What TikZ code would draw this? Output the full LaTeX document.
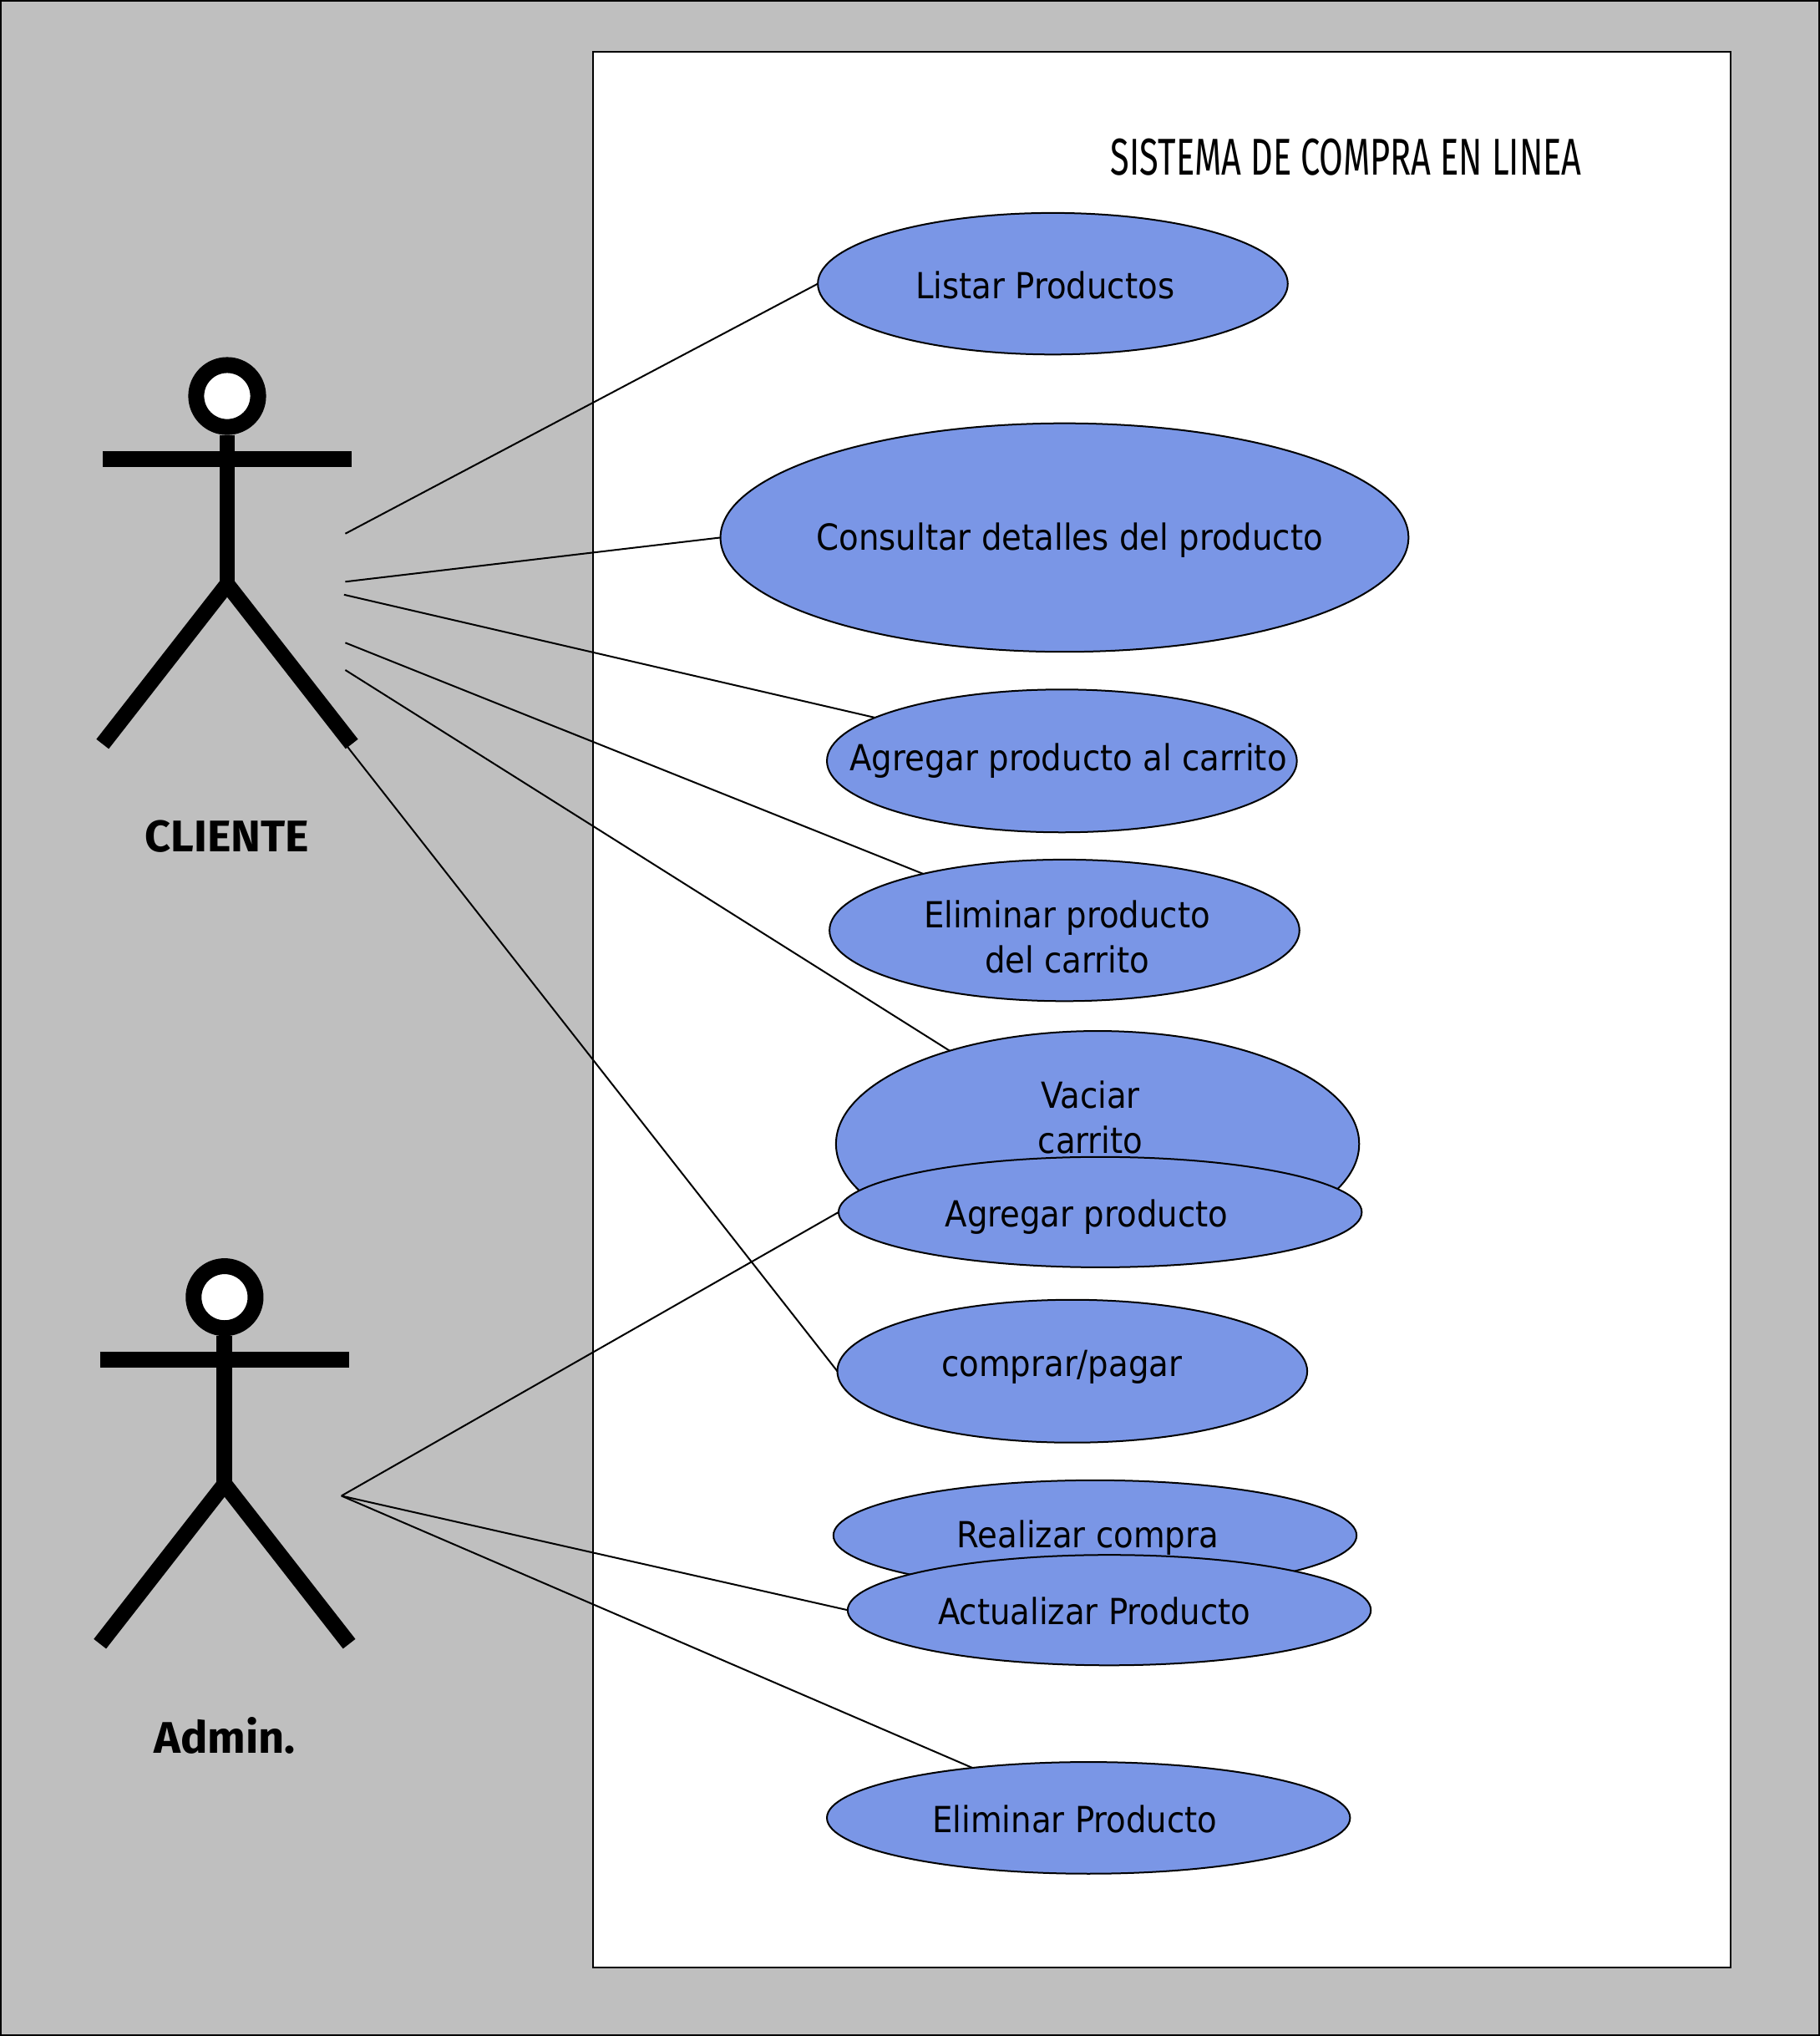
\documentclass[tikz,border=0pt]{standalone}
\usepackage{fontspec}
\usetikzlibrary{shapes.geometric}
\setmainfont{DejaVu Sans Condensed}
\newfontfamily\dinreg[FakeStretch=0.67]{Fira Sans}
\newfontfamily\dinbold[FakeStretch=1.02]{Fira Sans}
\definecolor{bggrey}{HTML}{BFBFBF}
\definecolor{ucblue}{HTML}{7A96E6}
\tikzset{
  x=0.7771pt,y=-0.7771pt,
  uc/.style={ellipse,draw=black,fill=ucblue,line width=1pt,inner sep=0pt,outer sep=0pt,
    minimum width=#1*0.7771pt},
  uch/.style={minimum height=#1*0.7771pt},
  uctext/.style={font=\fontsize{21.5}{27.2}\selectfont,inner sep=0pt,text=black},
  link/.style={draw=black,line width=1pt},
  limb/.style={draw=black,line width=9.4pt,line cap=butt,line join=miter},
  head/.style={circle,draw=black,fill=white,line width=9.5pt,minimum size=37.1pt,inner sep=0pt,outer sep=0pt},
  actorname/.style={font=\dinbold\bfseries\fontsize{26.5}{27}\selectfont,inner sep=0pt},
  titletext/.style={font=\dinreg\fontsize{31}{31}\selectfont,inner sep=0pt}
}
\begin{document}
\begin{tikzpicture}
\useasboundingbox (0,0) rectangle (1402,1568);
\draw[fill=bggrey,draw=black,line width=1.5pt] (0.5,0.5) rectangle (1401.5,1567.5);
\draw[fill=white,draw=black,line width=1pt] (457,40) rectangle (1333,1515);
\node[titletext] (title) at (1037,121) {SISTEMA DE COMPRA EN LINEA};

% use cases
\node[uc=362,uch=109] (listar) at (811,218.5) {};
\node[uc=530,uch=176] (consultar) at (820,414) {};
\node[uc=362,uch=110] (agregarc) at (818,586) {};
\node[uc=362,uch=109] (eliminarc) at (820,716.5) {};
\node[uc=403,uch=174] (vaciar) at (845.5,881) {};
\node[uctext] (listarT) at (805,220) {Listar Productos};
\node[uctext] (consultarT) at (824,416) {Consultar detalles del producto};
\node[uctext] (agregarcT) at (823,586) {Agregar producto al carrito};
\node[uctext,align=center] (eliminarcT) at (822,721.5) {Eliminar producto\\del carrito};
\node[uctext,align=center] (vaciarT) at (840,860.5) {Vaciar\\carrito};
\node[uc=403,uch=85] (agregar) at (847.5,933.5) {};
\node[uctext] (agregarT) at (837,937) {Agregar producto};
\node[uc=362,uch=110] (comprar) at (826,1056) {};
\node[uctext] (comprarT) at (818,1053) {comprar/pagar};
\node[uc=403,uch=85] (realizar) at (843.5,1182.5) {};
\node[uctext] (realizarT) at (838,1184) {Realizar compra};
\node[uc=403,uch=85] (actualizar) at (854.5,1240) {};
\node[uctext] (actualizarT) at (843,1241) {Actualizar Producto};
\node[uc=403,uch=86] (eliminar) at (838.5,1400) {};
\node[uctext] (eliminarT) at (828,1401) {Eliminar Producto};

% actor: cliente
\draw[limb] (175,335) -- (175,450);
\draw[limb] (79,353.5) -- (271,353.5);
\draw[limb] (79,573) -- (175,450) -- (271,573);
\node[head] (clientehead) at (175,305) {};
\node[actorname] (cliente) at (175,644) {CLIENTE};

% actor: admin
\draw[limb] (173,1029) -- (173,1144);
\draw[limb] (77,1047) -- (269,1047);
\draw[limb] (77,1266) -- (173,1143) -- (269,1266);
\node[head] (adminhead) at (173,999) {};
\node[actorname] (admin) at (173,1336.5) {Admin.};

% connector ends at the actors
\coordinate (c1) at (266,411);
\coordinate (c2) at (266,448);
\coordinate (c3) at (265,458);
\coordinate (c4) at (266,495);
\coordinate (c5) at (266,516);
\coordinate (c6) at (266,573);
\coordinate (a1) at (263,1152);

\draw[link] (c1) -- (listar.west);
\draw[link] (c2) -- (consultar.west);
\draw[link] (c3) -- (agregarc);
\draw[link] (c4) -- (eliminarc);
\draw[link] (c5) -- (vaciar);
\draw[link] (c6) -- (comprar.west);
\draw[link] (a1) -- (agregar.west);
\draw[link] (a1) -- (actualizar.west);
\draw[link] (a1) -- (eliminar);
\end{tikzpicture}
\end{document}
